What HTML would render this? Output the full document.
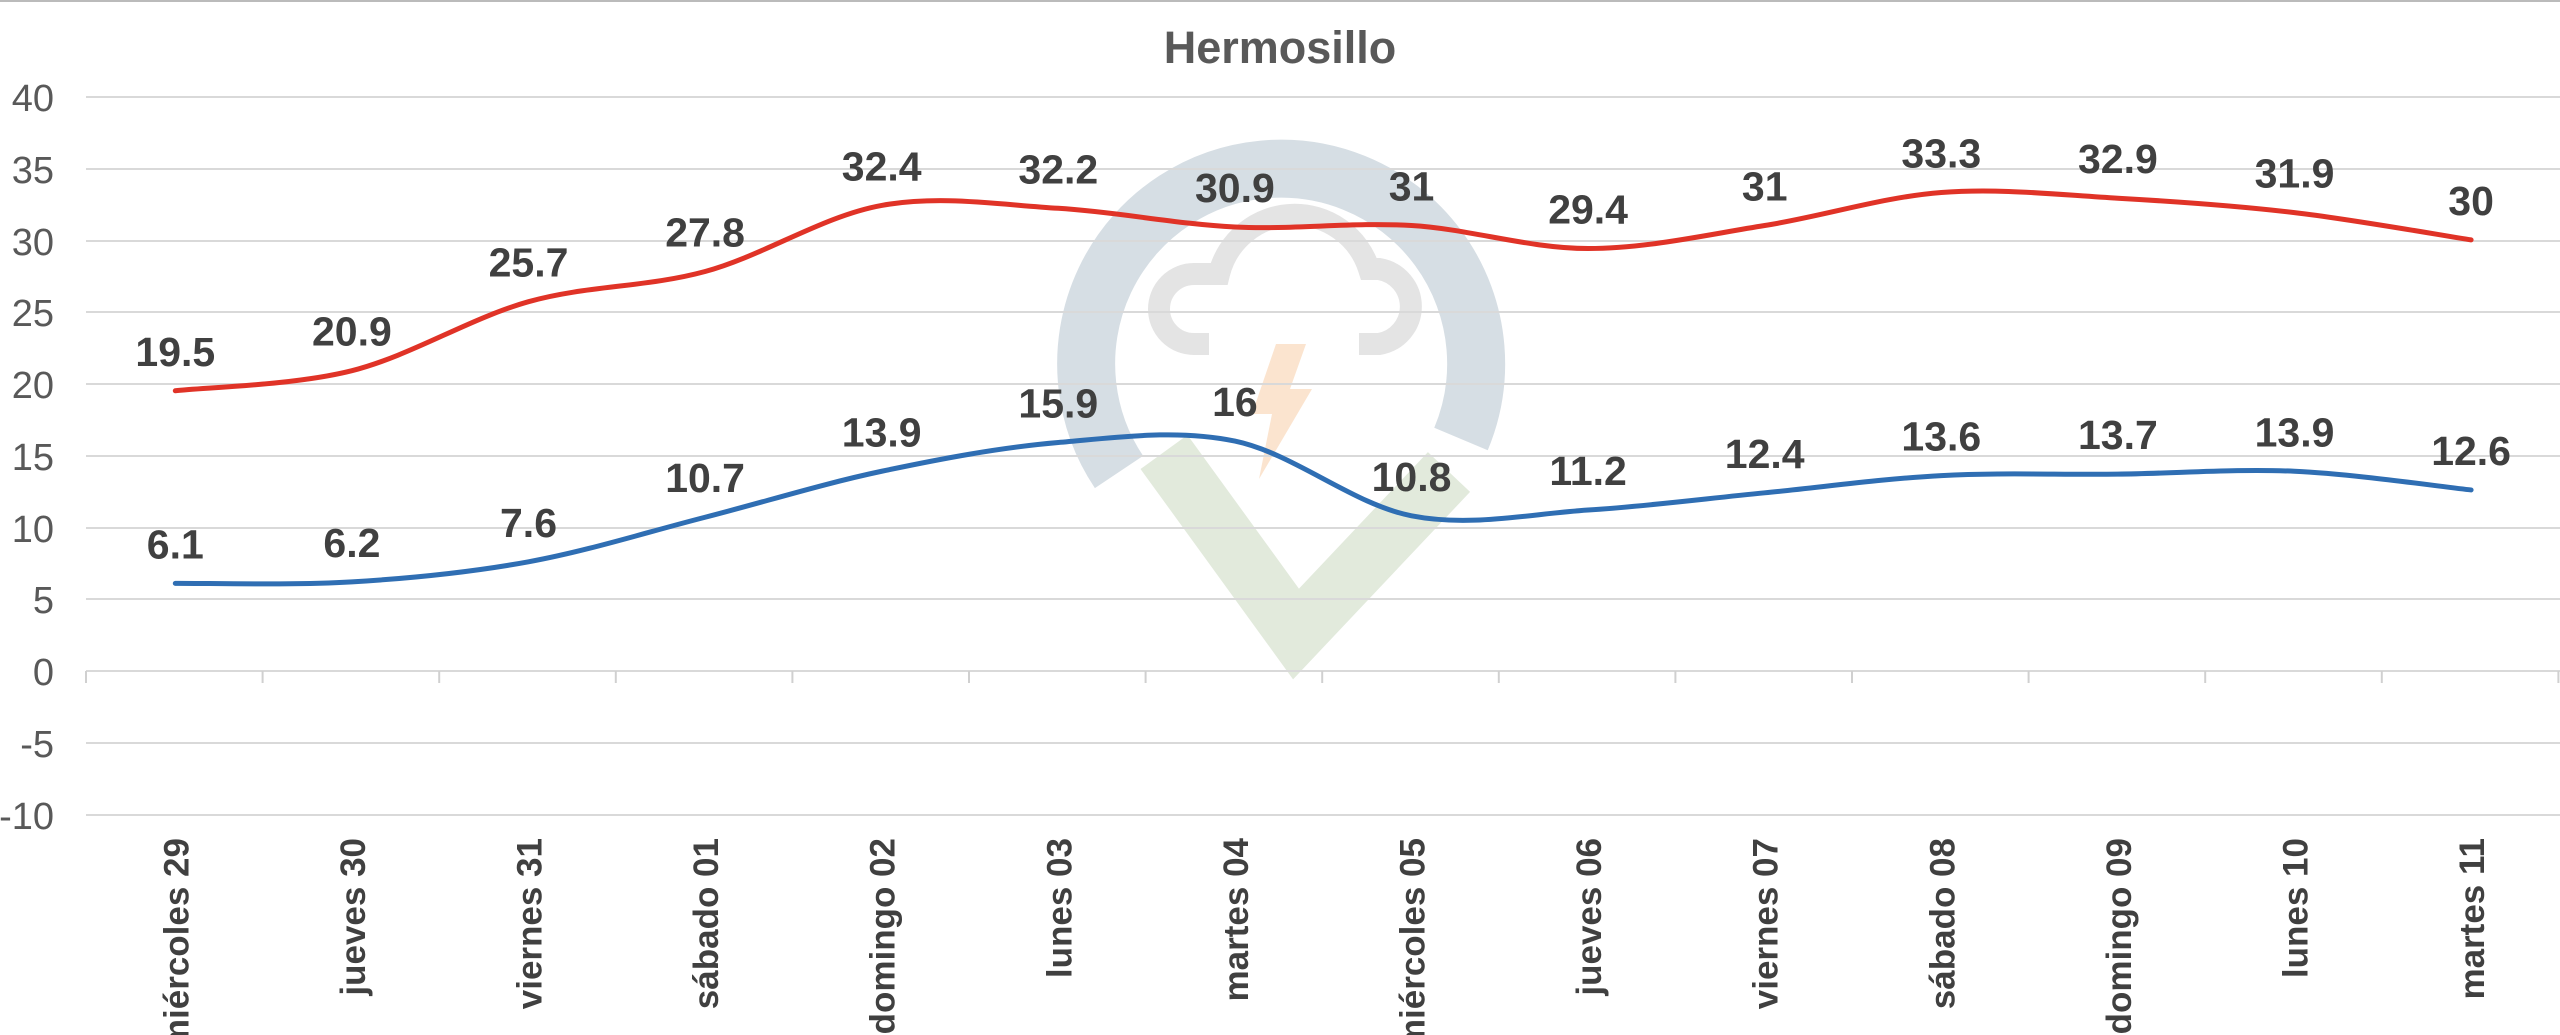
<!DOCTYPE html>
<html><head><meta charset="utf-8"><style>
html,body{margin:0;padding:0;background:#fff;}
svg{display:block;}
text{font-family:"Liberation Sans",Arial,sans-serif;}
</style></head><body>
<svg width="2560" height="1035" viewBox="0 0 2560 1035" xmlns="http://www.w3.org/2000/svg">
<rect width="2560" height="1035" fill="#fff"/>
<line x1="0" y1="1" x2="2560" y2="1" stroke="#bbb" stroke-width="2"/>
<!-- watermark -->
<g transform="translate(14,-6)">
<path d="M1105,478 A195,195 0 1 1 1447,445" fill="none" stroke="#d6dee4" stroke-width="58"/>
<path d="M1150,458 L1282,640 L1435,478" fill="none" stroke="#e2eadc" stroke-width="58"/>
<path d="M1195,350 L1180,350 A35,35 0 0 1 1180,280 L1205,280 A78,78 0 0 1 1355,275 L1365,275 A38,38 0 0 1 1365,350 L1345,350" fill="none" stroke="#e4e4e4" stroke-width="22"/>
<path d="M1262,350 L1292,350 L1276,395 L1298,395 L1245,485 L1258,420 L1238,420 Z" fill="#fbe4cf"/>
</g>
<!-- grid -->
<g stroke="#d9d9d9" stroke-width="2">
<line x1="86" y1="97" x2="2560" y2="97"/>
<line x1="86" y1="169" x2="2560" y2="169"/>
<line x1="86" y1="241" x2="2560" y2="241"/>
<line x1="86" y1="312" x2="2560" y2="312"/>
<line x1="86" y1="384" x2="2560" y2="384"/>
<line x1="86" y1="456" x2="2560" y2="456"/>
<line x1="86" y1="528" x2="2560" y2="528"/>
<line x1="86" y1="599" x2="2560" y2="599"/>
<line x1="86" y1="671" x2="2560" y2="671"/>
<line x1="86" y1="743" x2="2560" y2="743"/>
<line x1="86" y1="815" x2="2560" y2="815"/>
</g>
<g id="ticks" stroke="#d0d0d0" stroke-width="2"></g>
<g font-size="38" fill="#595959" text-anchor="end">
<text x="54" y="111">40</text><text x="54" y="183">35</text><text x="54" y="255">30</text>
<text x="54" y="326">25</text><text x="54" y="398">20</text><text x="54" y="470">15</text>
<text x="54" y="542">10</text><text x="54" y="613">5</text><text x="54" y="685">0</text>
<text x="54" y="757">-5</text><text x="54" y="829">-10</text>
</g>
<text x="1280" y="63" font-size="45" font-weight="bold" fill="#595959" text-anchor="middle">Hermosillo</text>
<g id="lines"></g>
<g id="labels" font-size="41" font-weight="bold" fill="#404040" text-anchor="middle"></g>
<g id="xl" font-size="35" font-weight="bold" fill="#404040" text-anchor="end"></g>
</svg>
<script>
var hi=[19.5,20.9,25.7,27.8,32.4,32.2,30.9,31,29.4,31,33.3,32.9,31.9,30];
var lo=[6.1,6.2,7.6,10.7,13.9,15.9,16,10.8,11.2,12.4,13.6,13.7,13.9,12.6];
var names=["miércoles 29","jueves 30","viernes 31","sábado 01","domingo 02","lunes 03","martes 04","miércoles 05","jueves 06","viernes 07","sábado 08","domingo 09","lunes 10","martes 11"];
var NS="http://www.w3.org/2000/svg";
function X(i){return 175.3+176.6*i;}
function Y(v){return 671-14.37*v;}
function el(t,a,p,txt){var e=document.createElementNS(NS,t);for(var k in a)e.setAttribute(k,a[k]);if(txt!=null)e.textContent=txt;p.appendChild(e);return e;}
var tk=document.getElementById('ticks');
for(var i=0;i<=14;i++){var x=86+176.6*i;el('line',{x1:x,y1:671,x2:x,y2:683},tk);}
function path(d){var p=d.map(function(v,i){return [X(i),Y(v)];});var s="M"+p[0][0]+","+p[0][1];
for(var i=0;i<p.length-1;i++){var p0=p[i-1]||p[i],p1=p[i],p2=p[i+1],p3=p[i+2]||p[i+1];
var c1=[p1[0]+(p2[0]-p0[0])/6,p1[1]+(p2[1]-p0[1])/6],c2=[p2[0]-(p3[0]-p1[0])/6,p2[1]-(p3[1]-p1[1])/6];
s+=" C"+c1+" "+c2+" "+p2;}return s;}
var L=document.getElementById('lines');
el('path',{d:path(hi),fill:'none',stroke:'#e03327','stroke-width':5,'stroke-linecap':'round'},L);
el('path',{d:path(lo),fill:'none',stroke:'#2f6eb3','stroke-width':5,'stroke-linecap':'round'},L);
var lb=document.getElementById('labels'),xl=document.getElementById('xl');
for(var i=0;i<14;i++){
el('text',{x:X(i),y:Y(hi[i])-25},lb,String(hi[i]));
el('text',{x:X(i),y:Y(lo[i])-25},lb,String(lo[i]));
el('text',{transform:'translate('+(X(i)+13)+',838) rotate(-90)'},xl,names[i]);
}
</script>
</body></html>
